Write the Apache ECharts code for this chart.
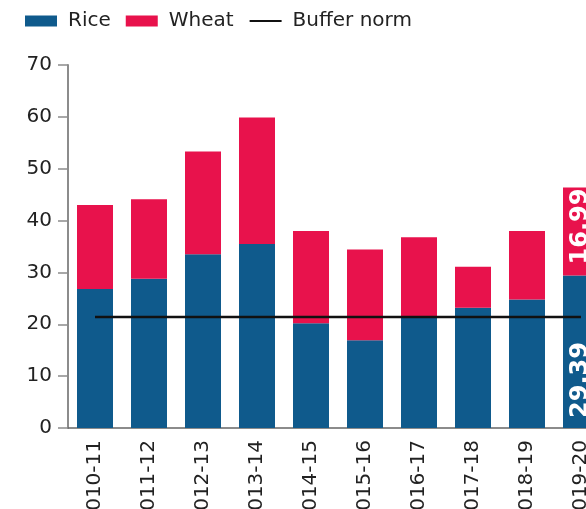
<!DOCTYPE html>
<html>
<head>
<meta charset="utf-8">
<script src="https://cdn.jsdelivr.net/npm/echarts@6/dist/echarts.min.js"></script>
<style>
    html, body { margin: 0; padding: 0; background: #fff; }
    #main { width: 586px; height: 509px; }
</style>
</head>
<body>
<div id="main"></div>
<script>
// 数据
var years = ['2010-11', '2011-12', '2012-13', '2013-14', '2014-15', '2015-16', '2016-17', '2017-18', '2018-19', '2019-20'];
var rice = [26.8, 28.8, 33.5, 35.5, 20.2, 16.9, 21.4, 23.2, 24.8, 29.39];
var wheat = [16.2, 15.3, 19.8, 24.4, 17.8, 17.5, 15.4, 7.9, 13.2, 16.99];
var bufferNorm = [21.41, 21.41, 21.41, 21.41, 21.41, 21.41, 21.41, 21.41, 21.41, 21.41];

var font = 'DejaVu Sans';

// 只给最后一根柱子加标签
function withLabel(arr, pos, align, dist) {
    var out = [];
    for (var i = 0; i < arr.length; i++) {
        if (i == arr.length - 1) {
            out.push({
                value: arr[i],
                label: {
                    show: true,
                    position: pos,
                    rotate: 90,
                    align: align,
                    verticalAlign: 'middle',
                    distance: dist,
                    color: '#fff',
                    fontFamily: font,
                    fontWeight: 'bold',
                    fontSize: 24,
                    formatter: '{c}'
                }
            });
        } else {
            out.push(arr[i]);
        }
    }
    return out;
}

var myChart = echarts.init(document.getElementById('main'));

var option = {
    animation: false,
    legend: {
        left: 20,
        top: 6,
        itemWidth: 32,
        itemHeight: 11,
        itemGap: 15,
        textStyle: {
            fontFamily: font,
            fontSize: 20,
            color: '#222',
            padding: [0, 0, 0, 6]
        },
        data: [
            { name: 'Rice', icon: 'rect' },
            { name: 'Wheat', icon: 'rect' },
            { name: 'Buffer norm', itemStyle: { opacity: 0 } }
        ]
    },
    grid: {
        left: 68,
        top: 65,
        width: 540,
        bottom: 81,
        outerBoundsMode: 'none'
    },
    xAxis: {
        type: 'category',
        data: years,
        axisLine: {
            lineStyle: { color: '#666', width: 1.5 }
        },
        axisTick: { show: false },
        axisLabel: {
            rotate: 90,
            margin: 12,
            fontFamily: font,
            fontSize: 20,
            color: '#222'
        }
    },
    yAxis: {
        type: 'value',
        min: 0,
        max: 70,
        interval: 10,
        splitLine: { show: false },
        axisLine: {
            show: true,
            lineStyle: { color: '#8c8c8c', width: 2 }
        },
        axisTick: {
            show: true,
            length: 10,
            lineStyle: { color: '#8c8c8c', width: 1.5 }
        },
        axisLabel: {
            margin: 16,
            fontFamily: font,
            fontSize: 20,
            color: '#222'
        }
    },
    series: [{
        name: 'Rice',
        type: 'bar',
        stack: 'total',
        barWidth: 36,
        itemStyle: { color: '#0f5a8c' },
        data: withLabel(rice, 'insideBottom', 'left', 10)
    }, {
        name: 'Wheat',
        type: 'bar',
        stack: 'total',
        barWidth: 36,
        itemStyle: { color: '#e8124c' },
        data: withLabel(wheat, 'insideTop', 'right', 1)
    }, {
        name: 'Buffer norm',
        type: 'line',
        symbol: 'none',
        lineStyle: { color: '#111', width: 2.5 },
        itemStyle: { color: '#111' },
        data: bufferNorm,
        z: 5
    }]
};

myChart.setOption(option);
</script>
</body>
</html>
